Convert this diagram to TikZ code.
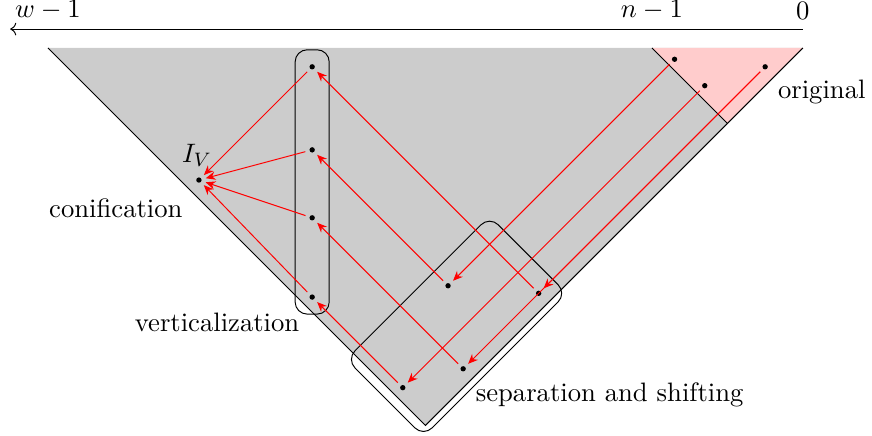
\documentclass[11pt,tikz,border=0pt]{standalone}
\usepackage{amssymb}
\usetikzlibrary{fit,arrows.meta}

\begin{document}
\begin{tikzpicture}[x=0.545cm, y=0.545cm,
    dot/.style={circle, fill, inner sep=0pt, minimum size=2.2pt, outer sep=1.8pt},
    move/.style={red, -{Stealth[length=4pt, width=3.4pt]}},
    group/.style={draw, rounded corners=5pt, inner sep=4.1pt}]

    \useasboundingbox (-21.27,1.27) rectangle (1.83,-10.28);

    % --- axis ---
    \coordinate (zero) at (0,0.5);
    \coordinate (wend) at (-21,0.5);
    \draw[->] (zero) -- (wend);
    \node[above] (lzero) at (zero) {$0$};
    \node[above] (lnn) at (-4,0.5) {$n-1$};
    \node[above] (lww) at (-20,0.5) {$w-1$};

    % --- cone and original region ---
    \fill[black!20] (-20,0) -- (0,0) -- (-10,-10) -- cycle;
    \fill[red!20] (-4,0) -- (0,0) -- (-2,-2) -- cycle;
    \draw (-20,0) -- (-10,-10) -- (0,0);
    \draw (-4,0) -- (-2,-2);

    % --- original points ---
    \node[dot] (o1) at (-3.4,-0.3) {};
    \node[dot] (o2) at (-2.6,-1) {};
    \node[dot] (o3) at (-1,-0.5) {};

    % --- separated and shifted points ---
    \node[dot] (s1) at (-9.4,-6.3) {};
    \node[dot] (s2) at (-7,-6.5) {};
    \node[dot] (s3) at (-9,-8.5) {};
    \node[dot] (s4) at (-10.6,-9) {};

    % --- vertical points ---
    \node[dot] (v1) at (-13,-0.5) {};
    \node[dot] (v2) at (-13,-2.7) {};
    \node[dot] (v3) at (-13,-4.5) {};
    \node[dot] (v4) at (-13,-6.6) {};

    % --- apex I_V ---
    \node[dot] (iv) at (-16,-3.5) {};

    % --- groups ---
    \node[group, fit=(v1)(v4)] (vbox) {};
    \node[group, inner sep=6.1pt, rotate fit=45, fit=(s1)(s2)(s3)(s4)] (sbox) {};

    % --- moves ---
    \draw[move] (o1) -- (s1);
    \draw[move] (o2) -- (s4);
    \draw[move] (o3) -- (s2);
    \draw[move] (o3) -- (s3);

    \draw[move] (s2) -- (v1);
    \draw[move] (s1) -- (v2);
    \draw[move] (s3) -- (v3);
    \draw[move] (s4) -- (v4);

    \foreach \v in {v1,v2,v3,v4}
        \draw[move] (\v) -- (iv);

    % --- labels ---
    \node (ivlabel) at (-16.05,-2.85) {$I_V$};
    \node (lorig) at (0.5,-1.17) {original};
    \node (lconif) at (-18.2,-4.24) {conification};
    \node (lvert) at (-15.52,-7.26) {verticalization};
    \node (lsep) at (-5.12,-9.19) {separation and shifting};

\end{tikzpicture}
\end{document}
